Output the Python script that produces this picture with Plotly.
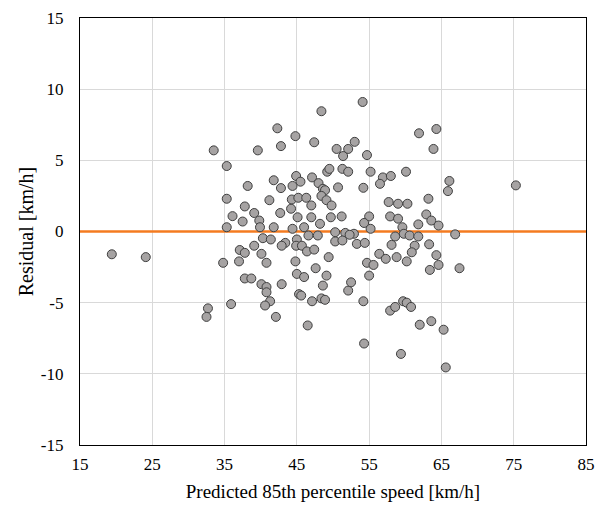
import plotly.graph_objects as go

predicted = [
    19.4, 24.1, 33.5, 35.3, 38.2, 35.3, 37.8, 36.1, 37.5, 39.1, 35.3, 39.6,
    34.8, 37.0, 37.1, 37.8, 39.1, 37.8, 38.7, 32.7, 32.5, 35.9,
    48.4, 42.3, 44.8, 42.8, 47.4, 50.5, 52.1, 51.4, 53.0, 41.8, 42.8, 44.9,
    45.5, 44.4, 47.1, 48.0, 48.6, 49.2, 49.5, 51.3, 52.1, 50.7, 48.9, 41.2,
    44.3, 45.2, 46.3, 47.0, 48.4, 49.1, 49.8, 39.8, 42.7, 44.2, 45.1, 47.0,
    48.2, 49.7, 51.2, 41.8, 44.4, 46.0, 50.3, 39.9,
    54.1, 61.9, 64.3, 63.9, 54.7, 55.2, 56.9, 58.0, 56.5, 60.1, 54.2, 66.1,
    65.9, 63.2, 57.7, 59.0, 60.3, 55.0, 54.3, 55.2, 57.9, 59.0, 59.6, 61.8,
    62.9, 63.6, 64.6, 66.9, 52.9, 58.6, 59.8, 60.6, 61.8, 75.3, 63.3, 64.3,
    64.6, 63.4, 67.5, 63.6, 65.3, 62.0, 65.6,
    51.7, 52.3, 40.3, 41.4, 43.4, 45.0, 46.6, 47.9, 50.3, 51.3, 40.1, 40.8,
    42.9, 44.9, 45.7, 46.4, 47.4, 44.8, 47.6, 49.4, 45.0, 46.0, 49.1, 48.6,
    40.1, 40.8, 40.8, 42.9, 45.3, 45.6, 41.3, 40.6, 42.1, 46.5, 47.1, 48.4,
    48.9, 52.1, 52.5, 53.3, 54.4, 58.1, 61.3, 56.4, 57.3, 58.8, 60.2, 60.9,
    54.7, 55.6, 55.0, 54.2, 57.9, 58.6, 59.7, 60.2, 60.8, 54.3, 59.4,
]

residual = [
    -1.6, -1.8, 5.7, 4.6, 3.2, 2.3, 1.76, 1.08, 0.7, 1.3, 0.3, 5.7,
    -2.2, -2.1, -1.3, -1.5, -1.0, -3.3, -3.3, -5.4, -6.0, -5.1,
    8.45, 7.25, 6.7, 6.0, 6.27, 5.8, 5.8, 5.3, 6.3, 3.6, 3.05, 3.9,
    3.5, 3.2, 3.8, 3.4, 3.0, 4.2, 4.4, 4.4, 4.2, 3.1, 2.9, 2.2,
    2.25, 2.37, 2.37, 1.83, 2.5, 2.2, 1.83, 0.77, 1.3, 1.6, 1.0, 1.0,
    0.54, 1.0, 1.06, 0.3, 0.19, 0.3, -0.05, 0.3,
    9.1, 6.9, 7.2, 5.8, 5.37, 4.2, 3.8, 3.9, 3.35, 4.2, 3.07, 3.55,
    2.84, 2.3, 2.07, 1.95, 1.95, 1.06, 0.6, 0.19, 1.06, 0.9, 0.3, 0.5,
    1.2, 0.77, 0.42, -0.2, -0.16, -0.35, -0.16, -0.28, -0.35, 3.24, -0.9, -1.66,
    -2.35, -2.7, -2.58, -6.3, -6.9, -6.55, -9.55,
    -0.1, -0.23, -0.47, -0.56, -0.8, -0.56, -0.28, -0.28, -0.7, -0.63, -1.57, -2.2,
    -1.0, -1.0, -1.0, -1.4, -1.27, -2.1, -2.58, -1.8, -2.98, -3.2, -3.1, -3.8,
    -3.7, -3.9, -4.27, -3.7, -4.4, -4.5, -4.9, -5.2, -6.0, -6.6, -4.9, -4.7,
    -4.8, -4.15, -3.57, -0.87, -0.8, -0.94, -1.0, -1.57, -1.92, -1.8, -2.1, -1.46,
    -2.2, -2.35, -3.1, -4.9, -5.56, -5.3, -4.9, -5.0, -5.3, -7.87, -8.6,
]

zero_x = [15, 85]
zero_y = [0, 0]

x_ticks = [15, 25, 35, 45, 55, 65, 75, 85]
y_ticks = [-15, -10, -5, 0, 5, 10, 15]

FONT = "Liberation Serif, Times New Roman, serif"

fig = go.Figure()
fig.add_trace(go.Scatter(
    x=zero_x, y=zero_y, mode="lines",
    line=dict(color="#F47B20", width=2.5),
    hoverinfo="skip", showlegend=False,
))
fig.add_trace(go.Scatter(
    x=predicted, y=residual, mode="markers",
    marker=dict(size=9, color="#A6A3A3", line=dict(color="#3F3F3F", width=1)),
    showlegend=False,
))

fig.update_layout(
    width=596, height=510,
    margin=dict(l=80, r=10, t=18, b=65),
    paper_bgcolor="white", plot_bgcolor="white",
    font=dict(family=FONT, size=17, color="#000000"),
)
fig.update_xaxes(
    range=[15, 85], tickvals=x_ticks, ticktext=[str(v) for v in x_ticks],
    showgrid=True, gridcolor="#D9D9D9", gridwidth=1,
    showline=True, linecolor="#000000", linewidth=1.2, mirror=True,
    ticks="outside", ticklen=3, tickcolor="rgba(0,0,0,0)",
    ticklabeloverflow="allow", automargin=False,
    zeroline=False,
    title=dict(text="Predicted 85th percentile speed [km/h]", font=dict(size=19), standoff=12),
)
fig.update_yaxes(
    range=[-15, 15], tickvals=y_ticks, ticktext=[str(v) for v in y_ticks],
    showgrid=True, gridcolor="#D9D9D9", gridwidth=1,
    showline=True, linecolor="#000000", linewidth=1.2, mirror=True,
    ticks="outside", ticklen=12, tickcolor="rgba(0,0,0,0)",
    ticklabeloverflow="allow", automargin=False,
    zeroline=False,
    title=dict(text="Residual [km/h]", font=dict(size=20), standoff=1),
)

fig.write_html(
    "out.html",
    config={"displayModeBar": False},
    post_script="document.body.style.margin='0px';",
)
